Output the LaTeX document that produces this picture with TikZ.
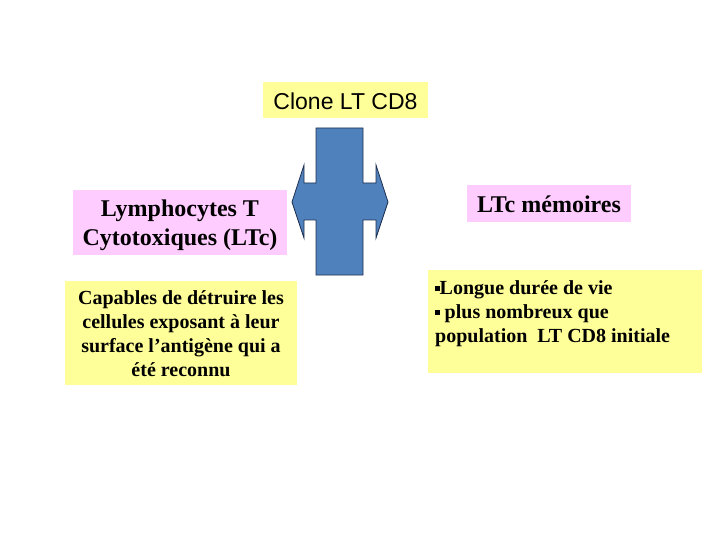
\documentclass[tikz,border=0pt]{standalone}
\usepackage{fontspec}
\setmainfont{Liberation Serif}
\newfontfamily\arialf{Liberation Sans}
\definecolor{paleyellow}{HTML}{FFFF99}
\definecolor{palepink}{HTML}{FFCCFF}
\definecolor{crossblue}{HTML}{4F81BD}
\definecolor{crossline}{HTML}{1F3050}
\newcommand{\sqbul}{\rule[3.5pt]{4.5pt}{4.5pt}}
\begin{document}
\begin{tikzpicture}[x=1pt,y=-1pt,
  yellowbox/.style={fill=paleyellow,draw=none},
  pinkbox/.style={fill=palepink,draw=none},
  bigtxt/.style={font=\fontsize{24}{29}\selectfont\bfseries,align=center,inner sep=0pt},
  smalltxt/.style={font=\fontsize{20}{24}\selectfont\bfseries,inner sep=0pt}]
\useasboundingbox (0,0) rectangle (720,540);
\fill[white] (0,0) rectangle (720,540);
% Clone box
\fill[yellowbox] (263,82) rectangle (428,118);
\node[font=\arialf\fontsize{23}{27}\selectfont,inner sep=0pt] (clone) at (345.5,101) {Clone LT CD8};
% cross arrow
\draw[fill=crossblue,draw=crossline,line width=0.8pt,line join=miter]
 (316,128) -- (363,128) -- (363,183) -- (376,183) -- (376,165) -- (388,202)
 -- (376,238) -- (376,220) -- (363,220) -- (363,275) -- (316,275) -- (316,220)
 -- (304,220) -- (304,238) -- (292,202) -- (304,165) -- (304,183) -- (316,183) -- cycle;
\coordinate (cross) at (340,202);
% left pink
\fill[pinkbox] (73,190) rectangle (287,255);
\node[bigtxt] (lymph) at (180,225) {Lymphocytes T\\Cytotoxiques (LTc)};
% left yellow
\fill[yellowbox] (65,281) rectangle (297,385);
\node[smalltxt,align=center] (capables) at (181,334) {Capables de détruire les\\cellules exposant à leur\\surface l’antigène qui a\\été reconnu};
% right pink
\fill[pinkbox] (467,185) rectangle (631,222);
\node[bigtxt] (memo) at (549,204) {LTc mémoires};
% right yellow
\fill[yellowbox] (428,270) rectangle (702,373);
\node[smalltxt,align=left,anchor=north west] (longue) at (435,280) {\sqbul Longue durée de vie\\\sqbul{} plus nombreux que\\population\ \ LT CD8 initiale};
\end{tikzpicture}
\end{document}
